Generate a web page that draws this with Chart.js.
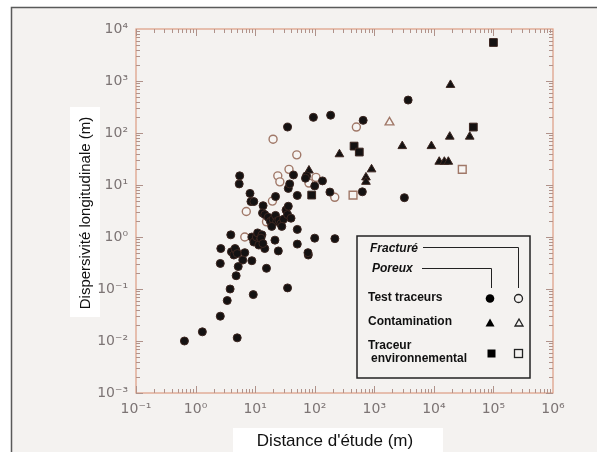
<!DOCTYPE html>
<html><head><meta charset="utf-8">
<script src="https://cdn.jsdelivr.net/npm/chart.js@4.4.1/dist/chart.umd.min.js"></script>
<style>html,body{margin:0;padding:0;background:#fff}#wrap{width:597px;height:452px;position:relative}</style>
</head><body><div id="wrap"><canvas id="c" width="597" height="452"></canvas></div>
<script>
// ---- tick values / labels ----
const xTickValues = [0.1, 1, 10, 100, 1000, 10000, 100000, 1000000];
const xTickLabels = ['10⁻¹', '10⁰', '10¹', '10²', '10³', '10⁴', '10⁵', '10⁶'];
const yTickValues = [0.001, 0.01, 0.1, 1, 10, 100, 1000, 10000];
const yTickLabels = ['10⁻³', '10⁻²', '10⁻¹', '10⁰', '10¹', '10²', '10³', '10⁴'];

// ---- Test traceurs, poreux (filled circles) ----
const testPoreuxX = [0.65, 1.3, 2.6, 5.0, 3.4, 3.8, 9.3, 4.8, 35, 2.6, 5.2, 15.5, 6.2, 8.8, 2.65, 4.0, 4.4, 4.8, 4.6, 5.0, 6.7, 14.5, 24.5, 3.9, 8.8, 9.5, 10.5, 11, 12, 11.5, 13, 12.5, 13.5, 21.5, 51, 51, 78, 77, 100, 218,
  13.6, 13.3, 14.5, 16.5, 18, 20, 22, 23, 25, 27, 30, 33, 36, 35, 40, 19, 28,
  5.5, 5.4, 8.2, 8.5, 9.5, 22, 36, 38, 44, 51, 73, 70, 100, 135, 180, 630, 3200, 35, 95, 185, 650, 3700];
const testPoreuxY = [0.01, 0.015, 0.03, 0.0115, 0.06, 0.1, 0.078, 0.18, 0.105, 0.31, 0.27, 0.25, 0.36, 0.35, 0.6, 0.52, 0.45, 0.55, 0.6, 0.48, 0.5, 0.6, 0.54, 1.1, 1.0, 0.8, 1.0, 1.2, 0.85, 0.7, 1.1, 0.95, 0.75, 0.87, 1.4, 0.73, 0.45, 0.5, 0.95, 0.93,
  4.0, 2.9, 2.7, 2.4, 2.0, 2.2, 2.6, 2.0, 2.1, 1.8, 2.2, 3.3, 3.9, 2.7, 2.3, 1.6, 1.6,
  15, 10.5, 6.9, 4.8, 4.8, 6.0, 8.6, 10.5, 15.6, 6.3, 15, 13.5, 9.6, 12, 7.3, 7.4, 5.7, 130, 200, 220, 175, 430];

// ---- Test traceurs, fracturé (open circles) ----
const testFractX = [20, 50, 37, 24, 26, 105, 80, 19.5, 7.1, 15.5, 6.7, 217, 500];
const testFractY = [76, 38, 20, 15, 11.5, 14, 10.9, 4.9, 3.1, 1.96, 1.0, 5.8, 130];

// ---- Contamination, poreux (filled triangles) ----
const contPoreuxX = [80, 260, 725, 725, 900, 2950, 9100, 12300, 15000, 17500, 18500, 40000, 19000];
const contPoreuxY = [19, 39, 14, 11.5, 20, 56, 56, 28, 28, 28, 85, 85, 840];

// ---- Contamination, fracturé (open triangles) ----
const contFractX = [1800];
const contFractY = [160];

// ---- Traceur environnemental, poreux (filled squares) ----
const envPoreuxX = [89, 458, 560, 46000, 100000];
const envPoreuxY = [6.4, 56, 43, 130, 5500];

// ---- Traceur environnemental, fracturé (open squares) ----
const envFractX = [440, 30000];
const envFractY = [6.4, 20];

const toPts = (xs, ys) => xs.map((x, i) => ({x: x, y: ys[i]}));

const FILL = '#141212';
const FILL_BORDER = '#3c2620';
const OPEN_BORDER = '#a07868';
const OPEN_FILL = '#f7f5f3';

const framePlugin = {
  id: 'framePlugin',
  beforeDraw(chart) {
    const ctx = chart.ctx;
    ctx.save();
    ctx.fillStyle = '#ffffff';
    ctx.fillRect(0, 0, chart.width, chart.height);
    ctx.fillStyle = '#f4f2f0';
    ctx.fillRect(11, 7, chart.width - 11, chart.height - 7);
    ctx.strokeStyle = '#5a5a5a';
    ctx.lineWidth = 1.5;
    ctx.beginPath();
    ctx.moveTo(11.5, chart.height);
    ctx.lineTo(11.5, 7.5);
    ctx.lineTo(chart.width, 7.5);
    ctx.stroke();
    // white boxes behind axis titles
    ctx.fillStyle = '#ffffff';
    ctx.fillRect(70, 107, 30, 210);
    ctx.fillRect(233, 428, 210, 24);
    ctx.restore();
  },
  beforeDatasetsDraw(chart) {
    const ctx = chart.ctx;
    const a = chart.chartArea;
    const xs = chart.scales.x, ys = chart.scales.y;
    ctx.save();
    ctx.strokeStyle = '#dc9c82';
    ctx.lineWidth = 1.2;
    ctx.strokeRect(a.left, a.top, a.right - a.left, a.bottom - a.top);
    ctx.strokeStyle = '#b0928a';
    ctx.lineWidth = 1;
    ctx.beginPath();
    for (let e = -1; e < 6; e++) {
      for (let m = 1; m <= 9; m++) {
        const v = m * Math.pow(10, e);
        const px = Math.round(xs.getPixelForValue(v)) + 0.5;
        const len = m === 1 ? 7 : 4;
        ctx.moveTo(px, a.bottom); ctx.lineTo(px, a.bottom - len);
        ctx.moveTo(px, a.top); ctx.lineTo(px, a.top + len);
      }
    }
    for (let e = -3; e < 4; e++) {
      for (let m = 1; m <= 9; m++) {
        const v = m * Math.pow(10, e);
        const py = Math.round(ys.getPixelForValue(v)) + 0.5;
        const len = m === 1 ? 7 : 4;
        ctx.moveTo(a.left, py); ctx.lineTo(a.left + len, py);
        ctx.moveTo(a.right, py); ctx.lineTo(a.right - len, py);
      }
    }
    ctx.stroke();
    ctx.restore();
  },
  afterDraw(chart) {
    const ctx = chart.ctx;
    ctx.save();
    // axis titles
    ctx.fillStyle = '#111111';
    ctx.textAlign = 'center';
    ctx.textBaseline = 'middle';
    ctx.font = '17px "Liberation Sans", Arial, sans-serif';
    ctx.fillText("Distance d'étude (m)", 335, 441);
    ctx.save();
    ctx.translate(86, 213);
    ctx.rotate(-Math.PI / 2);
    ctx.font = '15px "Liberation Sans", Arial, sans-serif';
    ctx.fillText('Dispersivité longitudinale (m)', 0, 0);
    ctx.restore();

    // legend box
    ctx.strokeStyle = '#222222';
    ctx.lineWidth = 1.5;
    ctx.strokeRect(357, 236, 173, 142);
    ctx.fillStyle = '#111111';
    ctx.textAlign = 'left';
    ctx.font = 'italic bold 12px "Liberation Sans", Arial, sans-serif';
    ctx.fillText('Fracturé', 370, 249);
    ctx.fillText('Poreux', 372, 269);
    ctx.lineWidth = 1;
    ctx.beginPath();
    ctx.moveTo(423, 247.5); ctx.lineTo(518.5, 247.5); ctx.lineTo(518.5, 288);
    ctx.moveTo(422, 268.5); ctx.lineTo(491.5, 268.5); ctx.lineTo(491.5, 288);
    ctx.stroke();
    ctx.font = 'bold 12px "Liberation Sans", Arial, sans-serif';
    ctx.fillText('Test traceurs', 368, 297.5);
    ctx.fillText('Contamination', 368, 322);
    ctx.fillText('Traceur', 368, 346);
    ctx.fillText('environnemental', 371, 358.5);
    // markers
    ctx.fillStyle = '#000';
    ctx.beginPath(); ctx.arc(490, 298.5, 4.3, 0, Math.PI * 2); ctx.fill();
    ctx.lineWidth = 1.3;
    ctx.beginPath(); ctx.arc(518.5, 298.5, 4, 0, Math.PI * 2); ctx.stroke();
    ctx.beginPath(); ctx.moveTo(490, 318.5); ctx.lineTo(494.5, 326.5); ctx.lineTo(485.5, 326.5); ctx.closePath(); ctx.fill();
    ctx.beginPath(); ctx.moveTo(519, 319); ctx.lineTo(523, 326); ctx.lineTo(515, 326); ctx.closePath(); ctx.stroke();
    ctx.fillRect(487.5, 349.5, 8, 8);
    ctx.strokeRect(514.5, 349.5, 8, 8);
    ctx.restore();
  }
};

new Chart(document.getElementById('c'), {
  type: 'scatter',
  data: {
    datasets: [
      {label: 'Test traceurs – Poreux', data: toPts(testPoreuxX, testPoreuxY), pointStyle: 'circle', pointRadius: 4, backgroundColor: FILL, borderColor: FILL_BORDER, borderWidth: 1},
      {label: 'Test traceurs – Fracturé', data: toPts(testFractX, testFractY), pointStyle: 'circle', pointRadius: 4, backgroundColor: OPEN_FILL, borderColor: OPEN_BORDER, borderWidth: 1.4},
      {label: 'Contamination – Poreux', data: toPts(contPoreuxX, contPoreuxY), pointStyle: 'triangle', pointRadius: 5, backgroundColor: FILL, borderColor: FILL_BORDER, borderWidth: 1},
      {label: 'Contamination – Fracturé', data: toPts(contFractX, contFractY), pointStyle: 'triangle', pointRadius: 5, backgroundColor: OPEN_FILL, borderColor: OPEN_BORDER, borderWidth: 1.4},
      {label: 'Traceur environnemental – Poreux', data: toPts(envPoreuxX, envPoreuxY), pointStyle: 'rect', pointRadius: 5.5, backgroundColor: FILL, borderColor: FILL_BORDER, borderWidth: 1},
      {label: 'Traceur environnemental – Fracturé', data: toPts(envFractX, envFractY), pointStyle: 'rect', pointRadius: 5.5, backgroundColor: OPEN_FILL, borderColor: OPEN_BORDER, borderWidth: 1.4}
    ]
  },
  options: {
    responsive: false,
    animation: false,
    devicePixelRatio: 1,
    layout: {padding: {top: 29, right: 44, left: 0, bottom: 0}},
    plugins: {legend: {display: false}, tooltip: {enabled: false}},
    scales: {
      x: {
        type: 'logarithmic', position: 'bottom', min: 0.1, max: 1000000,
        afterBuildTicks: s => { s.ticks = xTickValues.map(v => ({value: v})); },
        afterFit: s => { s.height = 59; },
        ticks: {callback: (v, i) => xTickLabels[i], autoSkip: false, maxRotation: 0, padding: 8, color: '#7c7474', font: {family: 'DejaVu Sans', size: 14}},
        grid: {display: false, drawTicks: false, tickLength: 0},
        border: {display: false}
      },
      y: {
        type: 'logarithmic', position: 'left', min: 0.001, max: 10000,
        afterBuildTicks: s => { s.ticks = yTickValues.map(v => ({value: v})); },
        afterFit: s => { s.width = 136; },
        ticks: {callback: (v, i) => yTickLabels[i], autoSkip: false, padding: 8, color: '#7c7474', font: {family: 'DejaVu Sans', size: 14}},
        grid: {display: false, drawTicks: false, tickLength: 0},
        border: {display: false}
      }
    }
  },
  plugins: [framePlugin]
});
</script>
</body></html>
